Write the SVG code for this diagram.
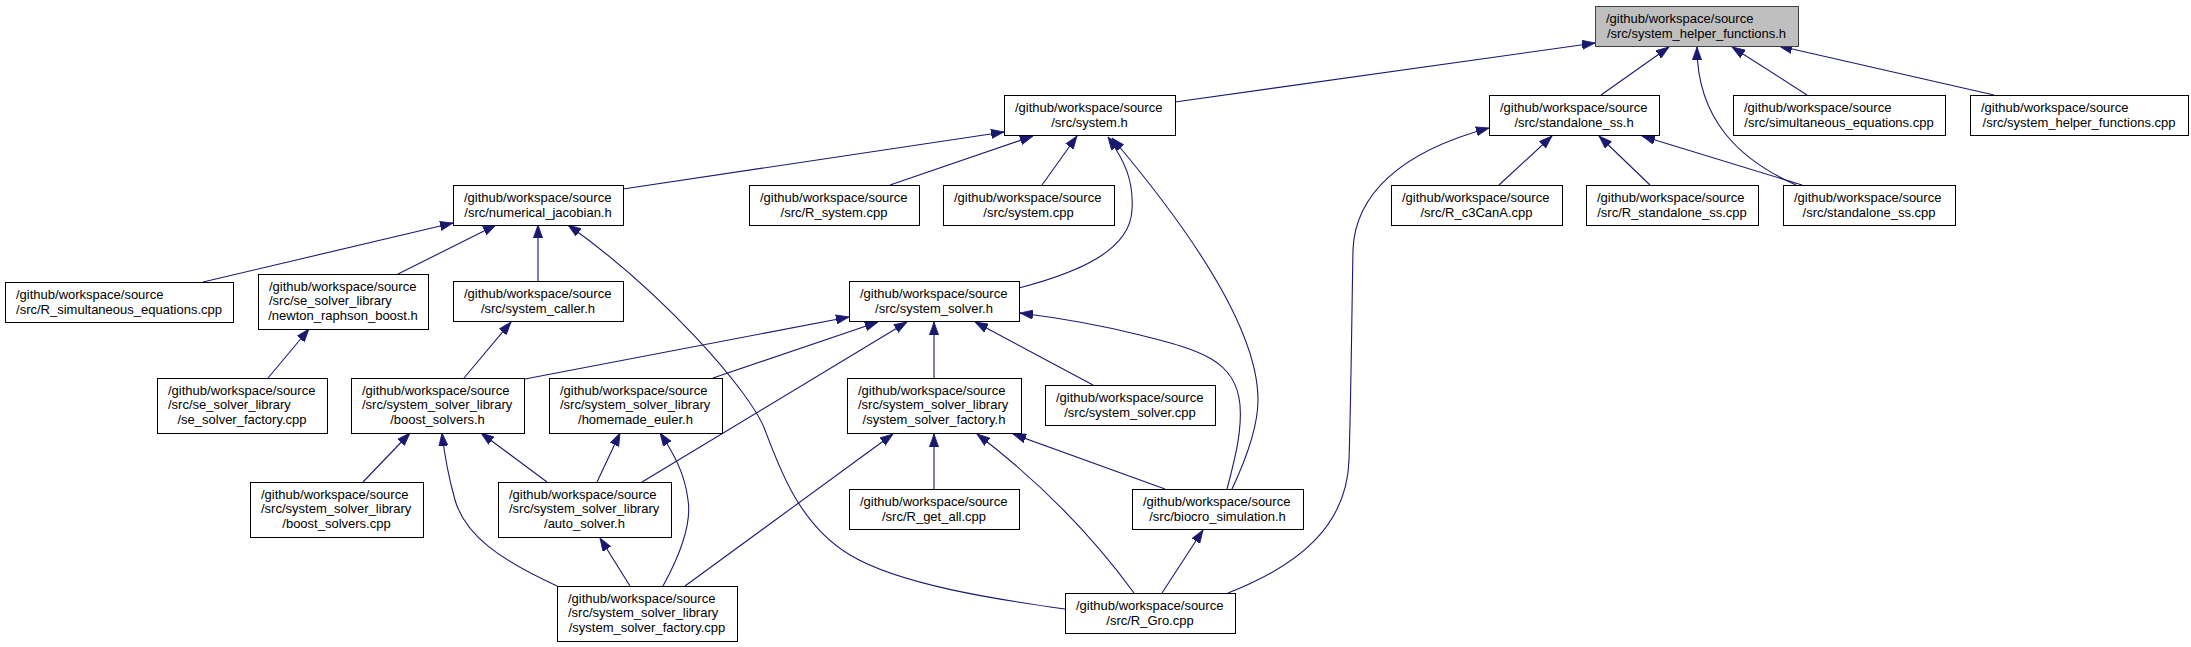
<svg xmlns="http://www.w3.org/2000/svg" width="2191" height="647" viewBox="0 0 2191 647">
<style>
.n rect{fill:#ffffff;stroke:#000000;stroke-width:1}
.n.root rect{fill:#bfbfbf;stroke:#404040}
.n text{font-family:"Liberation Sans",Arial,Helvetica,sans-serif;font-size:13px;fill:#000000}
.n text.c{text-anchor:middle}
#edges path{fill:none;stroke:#191970;stroke-width:1.1}
</style>
<defs>
<marker id="ah" markerUnits="userSpaceOnUse" markerWidth="14" markerHeight="10" refX="13" refY="5" orient="auto">
<path d="M0,0.4 L13,5 L0,9.6 Z" fill="#191970" stroke="#191970" stroke-width="0.8"/>
</marker>
</defs>
<rect width="2191" height="647" fill="#ffffff"/>
<g id="edges">
<path marker-end="url(#ah)" d="M1175,102 L1595,43"/>
<path marker-end="url(#ah)" d="M1601,95 L1669,47"/>
<path marker-end="url(#ah)" d="M1796,185 C1740,160 1697,120 1697,47"/>
<path marker-end="url(#ah)" d="M1807,95 L1732,47"/>
<path marker-end="url(#ah)" d="M1994,95 L1779,46"/>
<path marker-end="url(#ah)" d="M623,189 L1004,132"/>
<path marker-end="url(#ah)" d="M890,185 L1033,136"/>
<path marker-end="url(#ah)" d="M1042,185 L1077,136"/>
<path marker-end="url(#ah)" d="M1019,288 C1080,272 1130,250 1132,210 C1134,180 1124,160 1108,137"/>
<path marker-end="url(#ah)" d="M1232,489 C1248,455 1258,425 1258,400 C1258,330 1190,230 1112,138"/>
<path marker-end="url(#ah)" d="M1499,185 L1552,136"/>
<path marker-end="url(#ah)" d="M1650,185 L1599,136"/>
<path marker-end="url(#ah)" d="M1802,185 L1642,136"/>
<path marker-end="url(#ah)" d="M1228,593 C1300,565 1347,525 1349,460 C1351,400 1352,300 1353,250 C1355,195 1400,152 1489,128"/>
<path marker-end="url(#ah)" d="M203,282 L453,223"/>
<path marker-end="url(#ah)" d="M398,274 L496,225"/>
<path marker-end="url(#ah)" d="M538,281 L538,225"/>
<path marker-end="url(#ah)" d="M1065,609 C1000,600 900,585 850,555 C800,525 780,470 765,430 C750,390 660,290 568,225"/>
<path marker-end="url(#ah)" d="M464,378 L511,322"/>
<path marker-end="url(#ah)" d="M268,378 L309,329"/>
<path marker-end="url(#ah)" d="M525,379 L849,317"/>
<path marker-end="url(#ah)" d="M713,378 L878,322"/>
<path marker-end="url(#ah)" d="M642,482 Q780,398 907,322"/>
<path marker-end="url(#ah)" d="M934,378 L934,322"/>
<path marker-end="url(#ah)" d="M1093,385 L975,322"/>
<path marker-end="url(#ah)" d="M1227,489 C1236,455 1242,430 1240,405 C1236,360 1200,350 1140,335 C1100,325 1060,318 1020,313"/>
<path marker-end="url(#ah)" d="M363,482 L410,433"/>
<path marker-end="url(#ah)" d="M547,482 L481,433"/>
<path marker-end="url(#ah)" d="M557,586 C500,560 465,535 455,500 C448,475 445,460 442,433"/>
<path marker-end="url(#ah)" d="M597,482 L620,433"/>
<path marker-end="url(#ah)" d="M663,586 C680,555 692,525 688,500 C685,475 675,455 660,433"/>
<path marker-end="url(#ah)" d="M630,586 L600,538"/>
<path marker-end="url(#ah)" d="M685,586 L893,434"/>
<path marker-end="url(#ah)" d="M934,489 L934,434"/>
<path marker-end="url(#ah)" d="M1165,489 L1013,434"/>
<path marker-end="url(#ah)" d="M1134,593 Q1070,505 977,434"/>
<path marker-end="url(#ah)" d="M1162,593 L1203,530"/>
</g>
<g id="n1" class="n root"><rect x="1595.5" y="6.5" width="203" height="40"/><text x="1606" y="23">/github/workspace/source</text><text class="c" x="1696.5" y="37.5">/src/system_helper_functions.h</text></g>
<g id="n2" class="n"><rect x="1004.5" y="95.5" width="171" height="40"/><text x="1015" y="112">/github/workspace/source</text><text class="c" x="1089.5" y="126.5">/src/system.h</text></g>
<g id="n3" class="n"><rect x="1489.5" y="95.5" width="170" height="40"/><text x="1500" y="112">/github/workspace/source</text><text class="c" x="1574" y="126.5">/src/standalone_ss.h</text></g>
<g id="n4" class="n"><rect x="1733.5" y="95.5" width="212" height="40"/><text x="1744" y="112">/github/workspace/source</text><text class="c" x="1839" y="126.5">/src/simultaneous_equations.cpp</text></g>
<g id="n5" class="n"><rect x="1970.5" y="95.5" width="218" height="40"/><text x="1981" y="112">/github/workspace/source</text><text class="c" x="2079" y="126.5">/src/system_helper_functions.cpp</text></g>
<g id="n6" class="n"><rect x="453.5" y="185.5" width="170" height="40"/><text x="464" y="202">/github/workspace/source</text><text class="c" x="538" y="216.5">/src/numerical_jacobian.h</text></g>
<g id="n7" class="n"><rect x="749.5" y="185.5" width="170" height="40"/><text x="760" y="202">/github/workspace/source</text><text class="c" x="834" y="216.5">/src/R_system.cpp</text></g>
<g id="n8" class="n"><rect x="943.5" y="185.5" width="171" height="40"/><text x="954" y="202">/github/workspace/source</text><text class="c" x="1028.5" y="216.5">/src/system.cpp</text></g>
<g id="n9" class="n"><rect x="1391.5" y="185.5" width="171" height="40"/><text x="1402" y="202">/github/workspace/source</text><text class="c" x="1476.5" y="216.5">/src/R_c3CanA.cpp</text></g>
<g id="n10" class="n"><rect x="1586.5" y="185.5" width="172" height="40"/><text x="1597" y="202">/github/workspace/source</text><text class="c" x="1672" y="216.5">/src/R_standalone_ss.cpp</text></g>
<g id="n11" class="n"><rect x="1783.5" y="185.5" width="172" height="40"/><text x="1794" y="202">/github/workspace/source</text><text class="c" x="1869" y="216.5">/src/standalone_ss.cpp</text></g>
<g id="n12" class="n"><rect x="5.5" y="282.5" width="228" height="40"/><text x="16" y="299">/github/workspace/source</text><text class="c" x="119" y="313.5">/src/R_simultaneous_equations.cpp</text></g>
<g id="n13" class="n"><rect x="258.5" y="274.5" width="170" height="55"/><text x="269" y="290.5">/github/workspace/source</text><text x="269" y="305">/src/se_solver_library</text><text class="c" x="343" y="319.5">/newton_raphson_boost.h</text></g>
<g id="n14" class="n"><rect x="453.5" y="281.5" width="170" height="40"/><text x="464" y="298">/github/workspace/source</text><text class="c" x="538" y="312.5">/src/system_caller.h</text></g>
<g id="n15" class="n"><rect x="849.5" y="281.5" width="170" height="40"/><text x="860" y="298">/github/workspace/source</text><text class="c" x="934" y="312.5">/src/system_solver.h</text></g>
<g id="n16" class="n"><rect x="1045.5" y="385.5" width="170" height="40"/><text x="1056" y="402">/github/workspace/source</text><text class="c" x="1130" y="416.5">/src/system_solver.cpp</text></g>
<g id="n17" class="n"><rect x="157.5" y="378.5" width="170" height="55"/><text x="168" y="394.5">/github/workspace/source</text><text x="168" y="409">/src/se_solver_library</text><text class="c" x="242" y="423.5">/se_solver_factory.cpp</text></g>
<g id="n18" class="n"><rect x="351.5" y="378.5" width="173" height="55"/><text x="362" y="394.5">/github/workspace/source</text><text x="362" y="409">/src/system_solver_library</text><text class="c" x="437.5" y="423.5">/boost_solvers.h</text></g>
<g id="n19" class="n"><rect x="549.5" y="378.5" width="173" height="55"/><text x="560" y="394.5">/github/workspace/source</text><text x="560" y="409">/src/system_solver_library</text><text class="c" x="635.5" y="423.5">/homemade_euler.h</text></g>
<g id="n20" class="n"><rect x="847.5" y="378.5" width="174" height="55"/><text x="858" y="394.5">/github/workspace/source</text><text x="858" y="409">/src/system_solver_library</text><text class="c" x="934" y="423.5">/system_solver_factory.h</text></g>
<g id="n21" class="n"><rect x="250.5" y="482.5" width="173" height="55"/><text x="261" y="498.5">/github/workspace/source</text><text x="261" y="513">/src/system_solver_library</text><text class="c" x="336.5" y="527.5">/boost_solvers.cpp</text></g>
<g id="n22" class="n"><rect x="498.5" y="482.5" width="173" height="55"/><text x="509" y="498.5">/github/workspace/source</text><text x="509" y="513">/src/system_solver_library</text><text class="c" x="584.5" y="527.5">/auto_solver.h</text></g>
<g id="n23" class="n"><rect x="849.5" y="489.5" width="170" height="40"/><text x="860" y="506">/github/workspace/source</text><text class="c" x="934" y="520.5">/src/R_get_all.cpp</text></g>
<g id="n24" class="n"><rect x="1132.5" y="489.5" width="171" height="40"/><text x="1143" y="506">/github/workspace/source</text><text class="c" x="1217.5" y="520.5">/src/biocro_simulation.h</text></g>
<g id="n25" class="n"><rect x="557.5" y="586.5" width="180" height="55"/><text x="568" y="602.5">/github/workspace/source</text><text x="568" y="617">/src/system_solver_library</text><text class="c" x="647" y="631.5">/system_solver_factory.cpp</text></g>
<g id="n26" class="n"><rect x="1065.5" y="593.5" width="170" height="40"/><text x="1076" y="610">/github/workspace/source</text><text class="c" x="1150" y="624.5">/src/R_Gro.cpp</text></g>
</svg>
